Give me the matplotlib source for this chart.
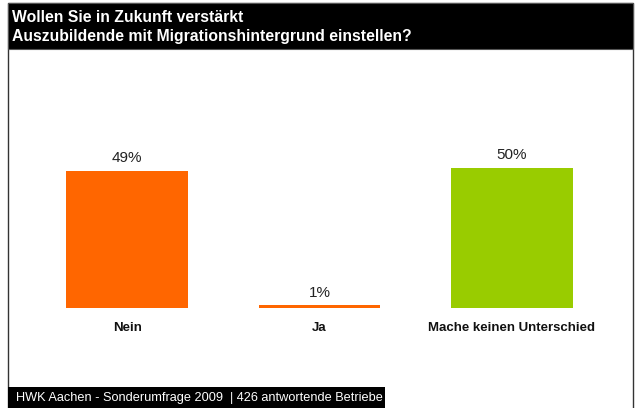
import matplotlib.pyplot as plt
from matplotlib.patches import Rectangle

categories = ["Nein", "Ja", "Mache keinen Unterschied"]
values = [49, 1, 50]
value_labels = ["49%", "1%", "50%"]
bar_colors = ["#FF6600", "#FF6600", "#99CC00"]

title_lines = ["Wollen Sie in Zukunft verstärkt",
               "Auszubildende mit Migrationshintergrund einstellen?"]
footer = "HWK Aachen - Sonderumfrage 2009  | 426 antwortende Betriebe"

plt.rcParams['font.family'] = ['Liberation Sans', 'DejaVu Sans']

W, H = 637, 408
fig = plt.figure(figsize=(W / 100, H / 100), dpi=100)
fig.patch.set_facecolor("white")


def fx(px):
    return px / W


def fy(py):
    # pixel row from top -> figure fraction from bottom
    return 1 - py / H


# outer frame (runs off the bottom edge like the original)
fig.patches.append(Rectangle((fx(8), fy(412)), fx(625), fy(3) - fy(412),
                             transform=fig.transFigure, fill=False,
                             edgecolor="#333333", linewidth=1.0,
                             clip_on=False))
# title bar
fig.patches.append(Rectangle((fx(8), fy(49)), fx(625), fy(3) - fy(49),
                             transform=fig.transFigure, facecolor="black",
                             edgecolor="#555555", linewidth=0.8))
fig.text(fx(12), fy(17), title_lines[0], color="white", fontsize=11.3,
         fontweight="bold", va="center", ha="left")
fig.text(fx(12), fy(37), title_lines[1], color="white", fontsize=11.3,
         fontweight="bold", va="center", ha="left")

# footer bar
fig.patches.append(Rectangle((fx(8), 0), fx(377), fy(387),
                             transform=fig.transFigure, facecolor="black",
                             edgecolor="none"))
fig.text(fx(16), fy(398), footer, color="white", fontsize=9.2,
         va="center", ha="left")

# bar chart
ax = fig.add_axes([fx(31), fy(308), fx(577), 168 / H])
x = range(len(categories))
bars = ax.bar(x, values, width=0.634, color=bar_colors)
ax.set_xlim(-0.5, 2.5)
ax.set_ylim(0, 60)
for b, lab in zip(bars, value_labels):
    ax.annotate(lab, xy=(b.get_x() + b.get_width() / 2, b.get_height()),
                xytext=(0, 4), textcoords="offset points", ha="center",
                va="bottom", fontsize=11, color="#222222")
for i, cat in enumerate(categories):
    ax.annotate(cat, xy=(i, 0), xytext=(0, -10), textcoords="offset points",
                ha="center", va="top", fontsize=9.5, fontweight="bold",
                color="#111111")
ax.axis("off")

fig.savefig("out.png", dpi=100)
